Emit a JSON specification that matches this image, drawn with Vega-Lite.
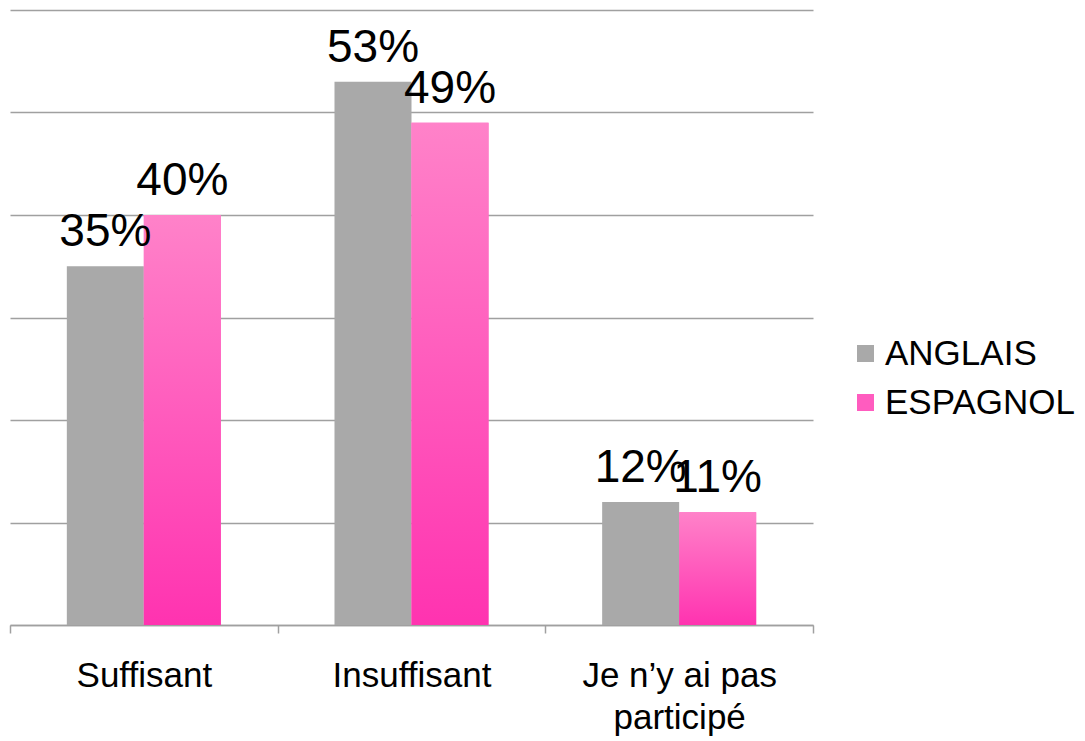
{
  "$schema": "https://vega.github.io/schema/vega-lite/v6.json",
  "width": 803,
  "height": 615,
  "autosize": {"type": "none"},
  "padding": {"left": 10, "top": 10, "right": 272, "bottom": 116},
  "background": "white",
  "config": {
    "view": {"stroke": null},
    "font": "Liberation Sans"
  },
  "data": {
    "values": [
      {"categorie": "Suffisant", "langue": "ANGLAIS", "valeur": 0.35},
      {"categorie": "Suffisant", "langue": "ESPAGNOL", "valeur": 0.40},
      {"categorie": "Insuffisant", "langue": "ANGLAIS", "valeur": 0.53},
      {"categorie": "Insuffisant", "langue": "ESPAGNOL", "valeur": 0.49},
      {"categorie": "Je n’y ai pas participé", "langue": "ANGLAIS", "valeur": 0.12},
      {"categorie": "Je n’y ai pas participé", "langue": "ESPAGNOL", "valeur": 0.11}
    ]
  },
  "encoding": {
    "x": {
      "field": "categorie",
      "type": "nominal",
      "sort": null,
      "scale": {"paddingInner": 0, "paddingOuter": 0},
      "axis": {
        "title": null,
        "labelAngle": 0,
        "labelFontSize": 35,
        "labelColor": "black",
        "labelLineHeight": 42,
        "labelPadding": 25,
        "labelLimit": 0,
        "labelExpr": "datum.label == 'Je n’y ai pas participé' ? ['Je n’y ai pas', 'participé'] : datum.label",
        "tickBand": "extent",
        "tickSize": 8,
        "tickWidth": 1.5,
        "tickColor": "#a0a0a0",
        "domainColor": "#a0a0a0",
        "domainWidth": 1.5,
        "grid": false
      }
    },
    "xOffset": {
      "field": "langue",
      "type": "nominal",
      "sort": ["ANGLAIS", "ESPAGNOL"],
      "scale": {"paddingInner": 0, "paddingOuter": 0.738}
    },
    "y": {
      "field": "valeur",
      "type": "quantitative",
      "scale": {"domain": [0, 0.6], "nice": false},
      "axis": {
        "title": null,
        "labels": false,
        "ticks": false,
        "domain": false,
        "values": [0, 0.1, 0.2, 0.3, 0.4, 0.5, 0.6],
        "grid": true,
        "gridColor": "#a0a0a0",
        "gridWidth": 1.5
      }
    }
  },
  "layer": [
    {
      "mark": {"type": "bar"},
      "encoding": {
        "color": {
          "field": "langue",
          "type": "nominal",
          "sort": ["ANGLAIS", "ESPAGNOL"],
          "scale": {"domain": ["ANGLAIS", "ESPAGNOL"], "range": ["#a9a9a9", "#ff5cbf"]},
          "legend": {
            "title": null,
            "orient": "none",
            "legendX": 838,
            "legendY": 326,
            "symbolType": "square",
            "symbolSize": 289,
            "symbolStrokeWidth": 0,
            "labelFontSize": 35,
            "labelColor": "black",
            "labelOffset": 2,
            "labelLimit": 0,
            "rowPadding": 13
          }
        }
      }
    },
    {
      "transform": [{"filter": "datum.langue == 'ESPAGNOL'"}],
      "mark": {
        "type": "bar",
        "color": {
          "gradient": "linear",
          "x1": 0, "y1": 0, "x2": 0, "y2": 1,
          "stops": [
            {"offset": 0, "color": "#ff82c9"},
            {"offset": 1, "color": "#ff33b0"}
          ]
        }
      },
      "encoding": {}
    },
    {
      "mark": {"type": "text", "fontSize": 46, "dy": -20, "baseline": "alphabetic", "color": "black"},
      "encoding": {
        "text": {"field": "valeur", "type": "quantitative", "format": ".0%"}
      }
    }
  ]
}
